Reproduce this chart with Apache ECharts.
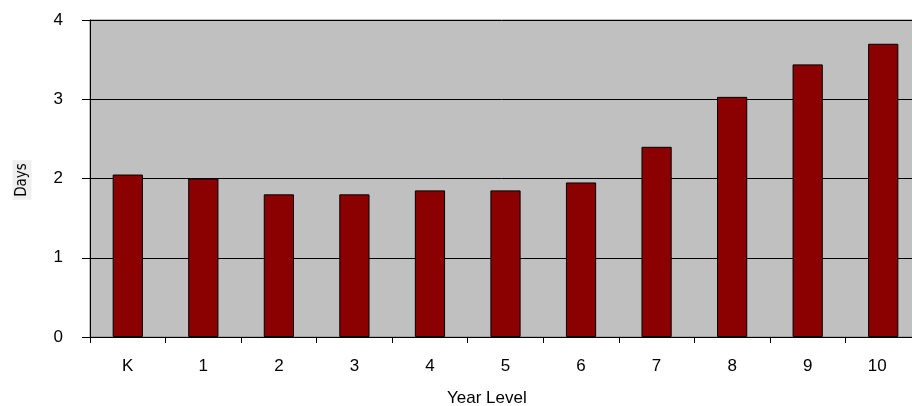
<!DOCTYPE html>
<html>
<head>
<meta charset="utf-8">
<script src="https://cdn.jsdelivr.net/npm/echarts@6/dist/echarts.min.js"></script>
<style>html,body{margin:0;padding:0;background:#fff;}#c{width:912px;height:406px;}</style>
</head>
<body>
<div id="c"></div>
<script>
const categories = ['K','1','2','3','4','5','6','7','8','9','10'];
const days = [2.05, 2.0, 1.8, 1.8, 1.85, 1.85, 1.95, 2.4, 3.03, 3.44, 3.7];
const yTicks = [0, 1, 2, 3, 4];

const FONT = 'Liberation Sans, Arial, sans-serif';
const chart = echarts.init(document.getElementById('c'), null, {renderer: 'canvas'});
chart.setOption({
  animation: false,
  textStyle: {fontFamily: FONT},
  grid: {
    left: 90, top: 20, bottom: 69, width: 831,
    outerBoundsMode: 'none', containLabel: false,
    show: true, backgroundColor: '#C0C0C0', borderColor: '#808080', borderWidth: 1
  },
  xAxis: {
    type: 'category',
    data: categories,
    axisLine: {lineStyle: {color: '#000', width: 1}},
    axisTick: {show: true, length: 6, interval: 0, lineStyle: {color: '#000'}},
    axisLabel: {
      interval: 0, hideOverlap: false,
      color: '#000', fontSize: 17, margin: 21, fontFamily: FONT,
      formatter: function (v, i) { return i === categories.length - 1 ? '{last|' + v + '}' : v; },
      rich: {last: {fontSize: 17, fontFamily: FONT, color: '#000', padding: [0, 12, 0, 0]}}
    }
  },
  yAxis: {
    type: 'value',
    min: yTicks[0], max: yTicks[yTicks.length - 1], interval: 1,
    axisLine: {show: true, lineStyle: {color: '#000', width: 1}},
    axisTick: {show: true, length: 8, lineStyle: {color: '#000'}},
    axisLabel: {color: '#000', fontSize: 17, margin: 27, fontFamily: FONT},
    splitLine: {show: true, lineStyle: {color: '#000', width: 1}}
  },
  series: [{
    type: 'bar',
    data: days,
    barWidth: '40%',
    itemStyle: {color: '#8B0000', borderColor: '#000', borderWidth: 1}
  }],
  graphic: [
    {
      type: 'text', x: 447, y: 398,
      style: {text: 'Year Level', fontSize: 17, fill: '#000', fontFamily: FONT, align: 'left', verticalAlign: 'middle'}
    },
    {
      type: 'text', x: 22, y: 180, rotation: Math.PI / 2,
      style: {text: 'Days', fontSize: 15, fill: '#000', fontFamily: 'DejaVu Sans Condensed, DejaVu Sans, sans-serif', align: 'center', verticalAlign: 'middle', backgroundColor: '#EFEFEF', padding: [2, 3]}
    }
  ]
});
</script>
</body>
</html>
